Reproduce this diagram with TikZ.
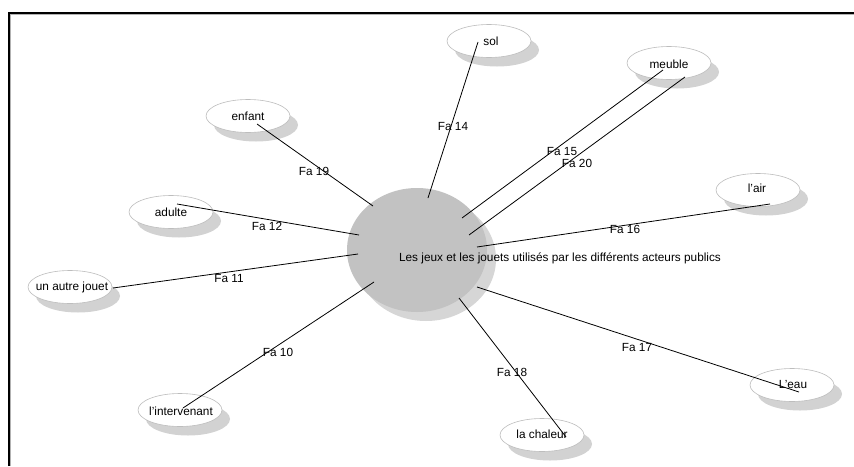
\documentclass[tikz,border=0pt]{standalone}
\usepackage{fontspec}
\setmainfont{Liberation Sans}
\usetikzlibrary{shapes.geometric,shadows,calc}
\definecolor{hubgray}{HTML}{C2C2C2}
\definecolor{hubshadow}{HTML}{D6D6D6}
\definecolor{ellborder}{HTML}{BDBDBD}
\definecolor{ellshadow}{HTML}{D2D2D2}
\tikzset{
  every node/.style={font=\fontsize{11.8}{13.5}\selectfont},
  actor/.style={ellipse, draw=ellborder, line width=0.6pt, fill=white,
    minimum width=84pt, minimum height=33pt, inner sep=0pt,
    drop shadow={shadow xshift=8pt, shadow yshift=-9pt, fill=ellshadow, opacity=1}},
  hubshape/.style={ellipse, fill=hubgray, minimum width=140pt, minimum height=124pt, inner sep=0pt,
    drop shadow={shadow xshift=9pt, shadow yshift=-9pt, fill=hubshadow, opacity=1}},
  link/.style={black, line width=0.8pt},
  flabel/.style={inner sep=0pt, fill=none},
}
\begin{document}
\begin{tikzpicture}[x=1pt,y=-1pt]
\useasboundingbox (0,0) rectangle (854,466);
\fill[white] (0,0) rectangle (854,466);
% frame
\draw[gray!60, line width=1pt] (10.8,466) -- (10.8,14.8) -- (854,14.8);
\draw[black, line width=1.8pt] (9,466) -- (9,13) -- (854,13);

% hub
\node[hubshape] (hub) at (417,250) {};

% actors
\node[actor] (sol) at (489,41) {};
\node[actor] (meuble) at (669,63) {};
\node[actor] (air) at (758,190) {};
\node[actor] (enfant) at (248,116) {};
\node[actor] (adulte) at (171,212) {};
\node[actor] (jouet) at (70,287) {};
\node[actor] (interv) at (180,410) {};
\node[actor] (chaleur) at (542,435) {};
\node[actor] (eau) at (792,385) {};

% texts
\node at (491,41) {sol};
\node at (669,64) {meuble};
\node at (757,188) {l'air};
\node at (248,116) {enfant};
\node at (171,212) {adulte};
\node at (72,287) {un autre jouet};
\node at (181,411) {l'intervenant};
\node at (542,434) {la chaleur};
\node at (793,384) {L'eau};
\node (hubtext) at (560,258) {Les jeux et les jouets utilisés par les différents acteurs publics};

% labels
\node[flabel] (l14) at (453,126) {Fa 14};
\node[flabel] (l15) at (562,151) {Fa 15};
\node[flabel] (l20) at (577,163) {Fa 20};
\node[flabel] (l16) at (625,229) {Fa 16};
\node[flabel] (l19) at (314,171) {Fa 19};
\node[flabel] (l12) at (267,226) {Fa 12};
\node[flabel] (l11) at (229,278) {Fa 11};
\node[flabel] (l10) at (278,352) {Fa 10};
\node[flabel] (l18) at (512,372) {Fa 18};
\node[flabel] (l17) at (637,347) {Fa 17};

% links
\draw[link] ($(hub.center)+(11,-52)$) -- ($(sol.center)+(-11,1)$);
\draw[link] ($(hub.center)+(45,-32)$) -- ($(meuble.center)+(-6,7)$);
\draw[link] ($(hub.center)+(52,-15)$) -- ($(meuble.center)+(16,14)$);
\draw[link] ($(hub.center)+(60,-3)$) -- ($(air.center)+(12,14)$);
\draw[link] ($(hub.center)+(60,37)$) -- ($(eau.center)+(7,7)$);
\draw[link] ($(hub.center)+(42,48)$) -- ($(chaleur.center)+(24,2)$);
\draw[link] ($(hub.center)+(-43,32)$) -- ($(interv.center)+(3,-2)$);
\draw[link] ($(hub.center)+(-59,4)$) -- ($(jouet.center)+(43,1)$);
\draw[link] ($(hub.center)+(-58,-15)$) -- ($(adulte.center)+(6,-8)$);
\draw[link] ($(hub.center)+(-44,-44)$) -- ($(enfant.center)+(9,8)$);
\end{tikzpicture}
\end{document}
